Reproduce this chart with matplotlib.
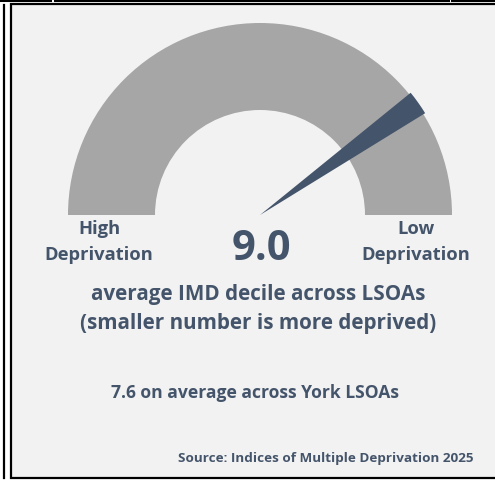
import matplotlib.pyplot as plt
from matplotlib.patches import Wedge, Rectangle

# Gauge data
imd_value = 9.0
york_average = 7.6
gauge_min = 0.0
gauge_max = 11.2
left_label = "High\nDeprivation"
right_label = "Low\nDeprivation"
caption = "average IMD decile across LSOAs\n(smaller number is more deprived)"
comparison = f"{york_average:.1f} on average across York LSOAs"
source = "Source: Indices of Multiple Deprivation 2025"

W, H = 495, 481
ink = "#44546a"
plt.rcParams['font.family'] = ['Open Sans', 'DejaVu Sans']

fig = plt.figure(figsize=(W / 100, H / 100), dpi=100, facecolor="white")
ax = fig.add_axes([0, 0, 1, 1])
ax.set_xlim(0, W)
ax.set_ylim(0, H)
ax.axis("off")

# panel frame
ax.add_patch(Rectangle((11, H - 479), W - 9, 474, facecolor="#f2f2f2",
                       edgecolor="black", lw=1.6))
ax.plot([4, 4], [H - 479, H - 6], color="black", lw=1.6)
for x0, x1 in [(0, 50), (55, 448), (452, W)]:
    ax.plot([x0, x1], [H - 1, H - 1], color="black", lw=2.2, clip_on=False)

# gauge arc
cx, cy = 260, H - 216
r_out, r_in = 192, 105
ax.add_patch(Wedge((cx, cy), r_out, 0, 180, width=r_out - r_in,
                   facecolor="#a6a6a6", edgecolor="none"))

# needle
frac = (imd_value - gauge_min) / (gauge_max - gauge_min)
angle = 180 - frac * 180
ax.add_patch(Wedge((cx, cy), 194, angle - 3.7, angle + 3.7,
                   facecolor=ink, edgecolor="none"))

bold = dict(fontweight="bold", color=ink)
ax.text(99, H - 242, left_label, ha="center", va="center", fontsize=13.2,
        linespacing=1.55, **bold)
ax.text(416, H - 242, right_label, ha="center", va="center", fontsize=13.2,
        linespacing=1.55, **bold)
ax.text(261, H - 249, f"{imd_value:.1f}", ha="center", va="center",
        fontsize=30, **bold)
ax.text(258, H - 309, caption, ha="center", va="center", fontsize=14.9,
        linespacing=1.45, **bold)
ax.text(255, H - 393, comparison, ha="center", va="center", fontsize=12.6,
        **bold)
ax.text(473, H - 459, source, ha="right", va="center", fontsize=9.7,
        **bold)

fig.savefig("out.png", dpi=100, facecolor="white")
